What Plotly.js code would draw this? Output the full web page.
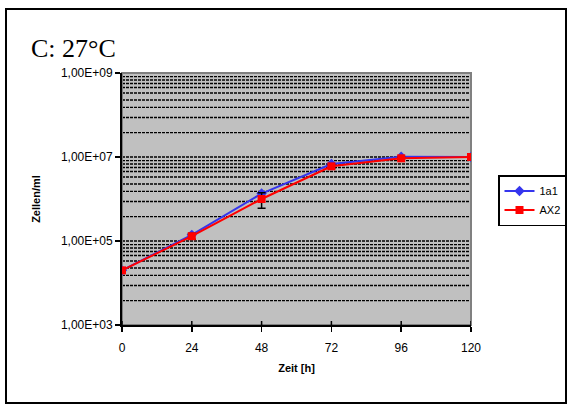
<!DOCTYPE html>
<html>
<head>
<meta charset="utf-8">
<script src="https://cdn.plot.ly/plotly-3.0.1.min.js"></script>
<style>
  html, body { margin: 0; padding: 0; background: #ffffff; }
  #wrap { position: relative; width: 569px; height: 405px; }
  #chart { position: absolute; left: 0; top: 0; width: 569px; height: 405px; }
  #frame { position: absolute; left: 5px; top: 8px; width: 562px; height: 396px;
           box-sizing: border-box; border: 2px solid #000; pointer-events: none; }
</style>
</head>
<body>
<div id="wrap">
  <div id="chart"></div>
  <div id="frame"></div>
</div>
<script>
// Growth of two cultures at 27 °C, cell counts per ml over time
const hours = [0, 24, 48, 72, 96, 120];
const series1Name = '1a1';
const series1Values = [2.0e4, 1.4e5, 1.35e6, 6.8e6, 1.02e7, 1.0e7];
const series2Name = 'AX2';
const series2Values = [2.0e4, 1.3e5, 1.0e6, 6.0e6, 9.3e6, 1.0e7];
const series2Errors = [0, 2.0e4, 4.0e5, 6.0e5, 6.0e5, 3.0e5];
const yTickValues = [1e3, 1e5, 1e7, 1e9];
const yTickLabels = ['1,00E+03', '1,00E+05', '1,00E+07', '1,00E+09'];
const xTickValues = [0, 24, 48, 72, 96, 120];

const FONT = 'Liberation Sans, Arial, sans-serif';
const Y_MIN_LOG = 3, Y_MAX_LOG = 9;
const PLOT_H = 405 - 73 - 80;

// Dashed horizontal gridlines: each two-decade band carries nine lines,
// offsets given in decades below the band's upper major value.
const bandOffsets = [0.085, 0.167, 0.25, 0.345, 0.476, 0.643, 0.82, 1.06, 1.42];
const bandTops = [9, 7, 5];
const gridLogs = [7, 5];
bandTops.forEach(top => bandOffsets.forEach(o => gridLogs.push(top - o)));

const toPaper = lg => (lg - Y_MIN_LOG) / (Y_MAX_LOG - Y_MIN_LOG);

const shapes = [];
gridLogs.forEach(lg => {
  shapes.push({
    type: 'line', xref: 'paper', yref: 'paper', layer: 'below',
    x0: 0, x1: 1, y0: toPaper(lg), y1: toPaper(lg),
    line: { color: '#000000', width: 1.3, dash: '3px,1px' }
  });
});
// plot-area frame
shapes.push({
  type: 'rect', xref: 'paper', yref: 'paper', layer: 'below',
  x0: 0, x1: 1, y0: 0, y1: 1,
  line: { color: '#808080', width: 2 }
});
// inner halves of the crossing x ticks
xTickValues.forEach(v => {
  shapes.push({
    type: 'line', xref: 'x', yref: 'paper',
    x0: v, x1: v, y0: 0, y1: 4 / PLOT_H,
    line: { color: '#000000', width: 1.5 }
  });
});

const traces = [
  {
    x: hours, y: series1Values, name: series1Name,
    type: 'scatter', mode: 'lines+markers',
    line: { color: '#3535EE', width: 2 },
    marker: { symbol: 'diamond', size: 8, color: '#3535EE' }
  },
  {
    x: hours, y: series2Values, name: series2Name,
    type: 'scatter', mode: 'lines+markers',
    line: { color: '#FF0000', width: 2 },
    marker: { symbol: 'square', size: 8, color: '#FF0000' },
    error_y: { type: 'data', array: series2Errors, visible: true,
               color: '#000000', thickness: 1.5, width: 4 }
  }
];

const layout = {
  width: 569, height: 405,
  margin: { l: 122, r: 98, t: 73, b: 80, autoexpand: false },
  paper_bgcolor: '#ffffff',
  plot_bgcolor: '#C0C0C0',
  font: { family: FONT, size: 12, color: '#000000' },
  title: {
    text: 'C: 27°C',
    font: { family: 'Liberation Serif, Times New Roman, serif', size: 26, color: '#000000' },
    xref: 'container', yref: 'container',
    x: 31 / 569, xanchor: 'left',
    y: 1 - 48 / 405, yanchor: 'middle'
  },
  xaxis: {
    range: [0, 120],
    tickvals: xTickValues,
    ticktext: xTickValues.map(String),
    ticks: 'outside', ticklen: 5, tickwidth: 1.5, tickcolor: '#000000',
    ticklabelstandoff: 6,
    showline: true, linecolor: '#000000', linewidth: 2,
    showgrid: false, zeroline: false,
    tickfont: { family: FONT, size: 12 },
    title: { text: '<b>Zeit [h]</b>', font: { family: FONT, size: 11 }, standoff: 10 }
  },
  yaxis: {
    type: 'log',
    range: [Y_MIN_LOG, Y_MAX_LOG],
    tickvals: yTickValues,
    ticktext: yTickLabels,
    ticks: 'outside', ticklen: 5, tickwidth: 1.5, tickcolor: '#000000',
    showline: true, linecolor: '#000000', linewidth: 2,
    showgrid: false, zeroline: false,
    tickfont: { family: FONT, size: 12 },
    title: { text: '<b>Zellen/ml</b>', font: { family: FONT, size: 11 }, standoff: 18 }
  },
  showlegend: true,
  legend: {
    x: (498 - 122) / 349, xanchor: 'left',
    y: (325 - 175) / PLOT_H, yanchor: 'top',
    bgcolor: '#ffffff', bordercolor: '#000000', borderwidth: 1.5,
    font: { family: FONT, size: 11 },
    tracegroupgap: 0
  },
  shapes: shapes
};

Plotly.newPlot('chart', traces, layout, { displayModeBar: false, staticPlot: true });
</script>
</body>
</html>
